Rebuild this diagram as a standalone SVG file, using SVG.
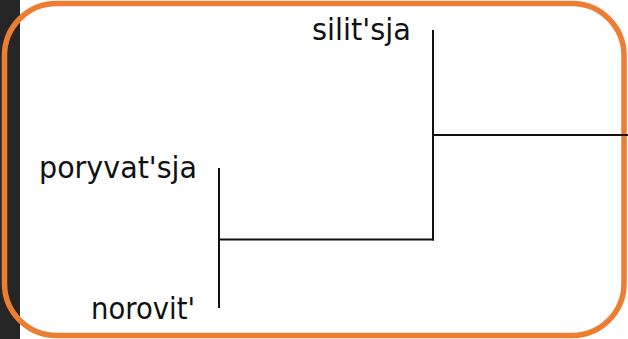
<svg xmlns="http://www.w3.org/2000/svg" width="628" height="339" viewBox="0 0 628 339">
  <style>
    .label { font-family: "DejaVu Sans", Verdana, sans-serif; font-size: 31px; fill: #111; text-anchor: end; }
    .branch { stroke: #111; stroke-width: 2; fill: none; stroke-linecap: square; }
  </style>
  <!-- page background with dark side strip -->
  <rect x="0" y="0" width="628" height="339" fill="#ffffff"/>
  <rect x="0" y="0" width="20" height="339" fill="#262626"/>
  <!-- rounded frame -->
  <rect id="frame" x="4.5" y="3.5" width="619.5" height="332" rx="52" ry="52" fill="none" stroke="#ed7d31" stroke-width="5.5"/>

  <!-- tree branches -->
  <g id="connectors">
    <path class="branch" d="M433 31 V239.5"/>
    <path class="branch" d="M433 135 H628"/>
    <path class="branch" d="M219 239.5 H433"/>
    <path class="branch" d="M219 169 V307"/>
  </g>

  <g id="leaf-silitsja"><text class="label" x="411" y="40" textLength="99" lengthAdjust="spacingAndGlyphs">silit'sja</text></g>
  <g id="leaf-poryvatsja"><text class="label" x="197" y="178" textLength="158" lengthAdjust="spacingAndGlyphs">poryvat'sja</text></g>
  <g id="leaf-norovit"><text class="label" x="195" y="319" textLength="104" lengthAdjust="spacingAndGlyphs">norovit'</text></g>
</svg>
